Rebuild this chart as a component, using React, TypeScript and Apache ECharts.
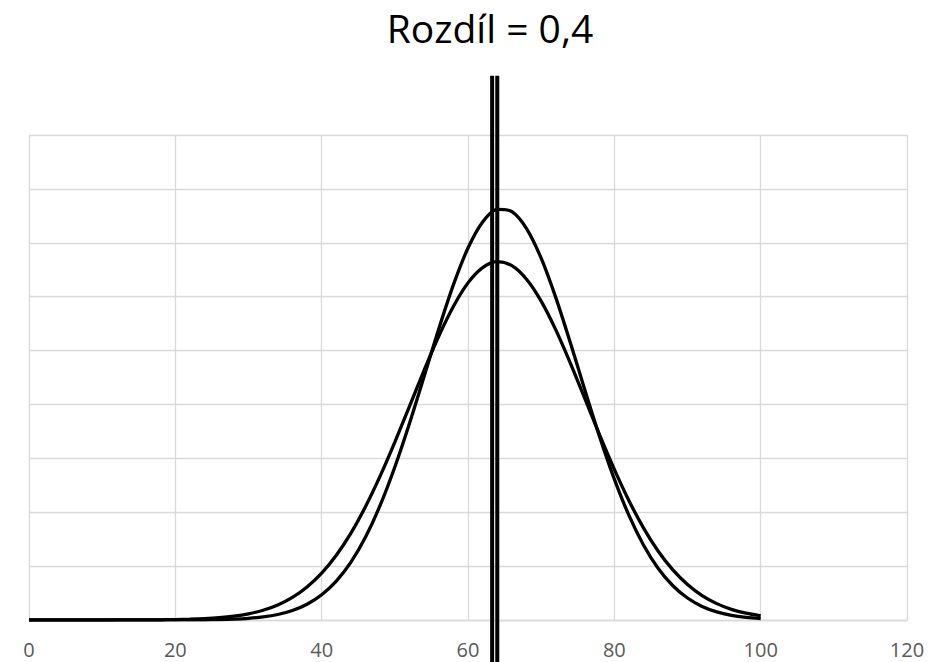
import React, { useEffect, useRef } from "react";
import * as echarts from "echarts";

const titleText = "Rozdíl = 0,4";

const xValues = [
  0, 2, 4, 6, 8, 10, 12, 14, 16, 18, 20, 22, 24, 26, 28, 30, 32, 34, 36, 38, 40,
  42, 44, 46, 48, 50, 52, 54, 56, 58, 60, 62, 64, 66, 68, 70, 72, 74, 76, 78, 80,
  82, 84, 86, 88, 90, 92, 94, 96, 98, 100,
];

const narrowCurve = [
  0, 0, 0, 0, 0, 0, 0, 0, 0.000001, 0.000002, 0.000004, 0.000009, 0.000019,
  0.00004, 0.00008, 0.000154, 0.000286, 0.00051, 0.000879, 0.00146, 0.00234,
  0.00361, 0.00537, 0.0077, 0.01065, 0.0142, 0.01824, 0.0226, 0.027, 0.03109,
  0.03451, 0.03693, 0.0381, 0.03789, 0.03632, 0.03357, 0.02991, 0.0257, 0.02128,
  0.01699, 0.01307, 0.0097, 0.00694, 0.00478, 0.00318, 0.00204, 0.00126,
  0.00075, 0.00043, 0.00024, 0.00013,
];

const wideCurve = [
  0, 0, 0, 0, 0, 0.000001, 0.000003, 0.000005, 0.00001, 0.00002, 0.000038,
  0.000069, 0.000122, 0.000209, 0.000351, 0.000573, 0.000908, 0.0014, 0.0021,
  0.00307, 0.00435, 0.00601, 0.00806, 0.01053, 0.01337, 0.01651, 0.01983,
  0.02317, 0.02633, 0.02909, 0.03128, 0.0327, 0.03325, 0.03288, 0.03162,
  0.02959, 0.02692, 0.02382, 0.0205, 0.01716, 0.01398, 0.01107, 0.00853,
  0.00638, 0.00465, 0.0033, 0.00227, 0.00152, 0.00099, 0.00063, 0.00039,
];

const markerX = [63.3, 64.0];
const markerY = [-0.01, 0.0505];

export default function App() {
  const ref = useRef<HTMLDivElement>(null);

  useEffect(() => {
    if (!ref.current) return;
    const chart = echarts.init(ref.current, null, { renderer: "svg" });
    const curveStyle = { color: "#000000", width: 3.3 };
    const markerSeries = markerX.map((mx, i) => ({
      name: "marker" + (i + 1),
      type: "line",
      data: markerY.map((my) => [mx, my]),
      showSymbol: false,
      clip: false,
      lineStyle: { color: "#000000", width: 4, cap: "butt" },
      z: 3,
    }));
    chart.setOption({
      animation: false,
      backgroundColor: "#ffffff",
      title: {
        text: titleText,
        left: 490,
        top: 8,
        padding: 0,
        textAlign: "center",
        textStyle: {
          fontFamily: "Open Sans",
          fontSize: 39,
          fontWeight: "normal",
          color: "#000000",
        },
      },
      grid: { left: 29, right: 38, top: 135, bottom: 42, containLabel: false },
      xAxis: {
        type: "value",
        min: 0,
        max: 120,
        interval: 20,
        axisLine: { show: true, lineStyle: { color: "#d9d9d9", width: 1.3 } },
        axisTick: { show: false },
        axisLabel: {
          color: "#595959",
          fontFamily: "Open Sans",
          fontSize: 20,
          margin: 19,
        },
        splitLine: { show: true, lineStyle: { color: "#d9d9d9", width: 1.3 } },
      },
      yAxis: {
        type: "value",
        min: 0,
        max: 0.045,
        interval: 0.005,
        axisLine: { show: false },
        axisTick: { show: false },
        axisLabel: { show: false },
        splitLine: { show: true, lineStyle: { color: "#d9d9d9", width: 1.3 } },
      },
      series: [
        {
          name: "narrow",
          type: "line",
          data: xValues.map((x, i) => [x, narrowCurve[i]]),
          showSymbol: false,
          smooth: 0.3,
          lineStyle: curveStyle,
          z: 2,
        },
        {
          name: "wide",
          type: "line",
          data: xValues.map((x, i) => [x, wideCurve[i]]),
          showSymbol: false,
          smooth: 0.3,
          lineStyle: curveStyle,
          z: 2,
        },
        ...markerSeries,
      ],
    });
    return () => chart.dispose();
  }, []);

  return (
    <div
      ref={ref}
      style={{ position: "fixed", left: 0, top: 0, width: 945, height: 662 }}
    />
  );
}
